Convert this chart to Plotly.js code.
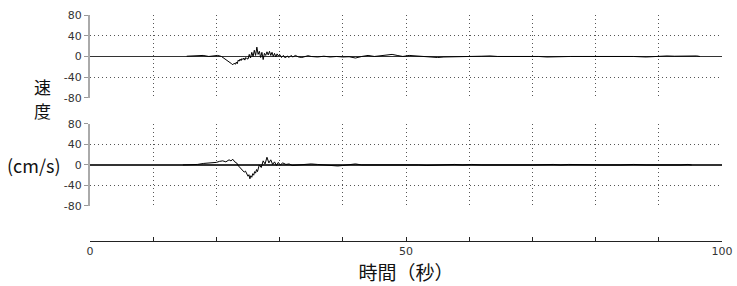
<!DOCTYPE html>
<html>
<head>
<meta charset="utf-8">
<script src="https://cdn.plot.ly/plotly-3.0.1.min.js"></script>
<style>html,body{margin:0;padding:0;background:#fff;}#chart{width:737px;height:286px;}</style>
</head>
<body>
<div id="chart"></div>
<script>
// Top record (time s, velocity cm/s)
const topTime = [15.3,16,17,17.9,18.8,19.5,20.2,20.8,21.3,21.6,21.8,22.0,22.2,22.4,22.6,22.8,23.0,23.15,23.3,23.45,23.6,23.75,23.9,24.05,24.2,24.35,24.5,24.65,24.8,25.0,25.2,25.4,25.6,25.8,26.0,26.2,26.4,26.6,26.8,27.0,27.2,27.4,27.6,27.8,28.0,28.2,28.4,28.6,28.8,29.0,29.2,29.4,29.6,29.8,30.0,30.3,30.6,30.9,31.2,31.5,31.8,32.1,32.5,33,33.5,34,34.5,35,36,37,38,39,40,41,42,43,44,45,46,47,47.8,48.6,49.5,50.5,51.5,52.5,53.5,55,56,57,58,59,60,62,63.3,64.5,66,68,69.6,71,72.3,74,76,78,80,82,84,86,88,89.5,91.3,92.5,93.8,95,96,96.5];
const topVel = [0.5,1,1,2,0,0.5,2,0,-4,-6,-8,-10,-12,-14,-16,-13,-15,-11,-14,-7,-9,-5,-8,-4,-6,-3,-7,-2,-4,-5,4,-3,8,0,12,2,18,4,10,-2,8,-6,6,2,9,3,10,2,8,0,6,-1,5,1,4,-2,2,-3,1,-2,2,-1,2,-1,-2,0,1.5,0,-1,0.5,-1,0,-1,-0.5,-3,0,2,0,1,3,4,2,0,2,1,0,-1,-2,-1,-1,0,0,0,0.5,1,0,0,0,1,0,-1,0,0,0,0,1,0,0,-1,0,1,0.5,1,0.5,1,0];
// Bottom record
const botTime = [14.7,16,17,18,19,20,20.5,21,21.5,22,22.3,22.6,22.9,23.2,23.5,23.8,24.1,24.4,24.6,24.8,25.0,25.15,25.3,25.45,25.6,25.75,25.9,26.05,26.2,26.35,26.5,26.65,26.8,27.1,27.4,27.7,28.0,28.3,28.6,28.9,29.2,29.5,29.8,30.1,30.5,31,31.5,32,33,34,35,36,37,38,38.5,39.2,40,41,42,43,44,46,48,50.6,52,53.3,55,57.7,59,60.4,62,64,65.4,67,70,73.3,74.5,75.7,78,81,84,86,88,90,92.2,93.5,94.6,95.2];
const botVel = [0,0.5,1,3,4,5,7,8,6,10,8,11,6,4,-2,-6,-10,-14,-12,-18,-22,-19,-27,-21,-24,-17,-20,-13,-16,-9,-13,-6,0,-5,8,2,15,4,10,1,6,-1,5,0,4,1,2,-1,0,2,2,1,0,-1,-2,-2,-1,1,2,0,0,0,0,1,0,-1,0,1,0,1,0,0,-1,0,0,1,0,1,0,0,0,1,0,0,-1,0,1,0];

const xTickVals = [0,10,20,30,40,50,60,70,80,90,100];
const xTickText = ['0','','','','','50','','','','','100'];
const yTickVals = [-80,-40,0,40,80];
const yTickText = ['-80','-40','0','40','80'];

const tickFont = {family:'DejaVu Sans', size:11, color:'#333'};
const gridStyle = {showgrid:true, gridcolor:'#555', griddash:'1px,3px', gridwidth:1};

const yCommon = Object.assign({
  range:[-80,80], tickvals:yTickVals, ticktext:yTickText,
  zeroline:true, zerolinecolor:'#333', zerolinewidth:1.5,
  showline:true, linecolor:'#aaa', linewidth:2,
  ticks:'outside', ticklen:4, tickcolor:'#999', tickwidth:1,
  tickfont:tickFont, fixedrange:true
}, gridStyle);

const cjk = 'Noto Sans CJK JP';
const layout = {
  width:737, height:286,
  margin:{l:90, r:15, t:15, b:45},
  paper_bgcolor:'#fff', plot_bgcolor:'#fff',
  showlegend:false,
  xaxis:Object.assign({anchor:'y', range:[0,100], tickvals:xTickVals, showticklabels:false, ticks:'',
    zeroline:false, showline:false}, gridStyle),
  yaxis:Object.assign({domain:[0.633,1], anchor:'x'}, yCommon),
  xaxis2:Object.assign({anchor:'free', position:0, range:[0,100], tickvals:xTickVals, ticktext:xTickText,
    zeroline:false,
    showline:true, linecolor:'#222', linewidth:1.2, ticks:'inside', ticklen:4, tickcolor:'#222',
    tickfont:tickFont,
    title:{text:'時間（秒）', font:{family:cjk, size:19, color:'#111'}, standoff:6}}, gridStyle),
  yaxis2:Object.assign({domain:[0.155,0.518], anchor:'x2'}, yCommon),
  annotations:[
    {text:'速', xref:'paper', yref:'paper', x:(42-90)/632, y:(241-86)/226, showarrow:false, xanchor:'center', yanchor:'middle',
      font:{family:cjk, size:17, color:'#111'}},
    {text:'度', xref:'paper', yref:'paper', x:(42-90)/632, y:(241-110)/226, showarrow:false, xanchor:'center', yanchor:'middle',
      font:{family:cjk, size:17, color:'#111'}},
    {text:'(cm/s)', xref:'paper', yref:'paper', x:(34-90)/632, y:(241-165)/226, showarrow:false, xanchor:'center', yanchor:'middle',
      font:{family:cjk, size:18, color:'#111'}}
  ]
};

const data = [
  {x:topTime, y:topVel, xaxis:'x', yaxis:'y', type:'scatter', mode:'lines', line:{color:'#000', width:1}},
  {x:botTime, y:botVel, xaxis:'x2', yaxis:'y2', type:'scatter', mode:'lines', line:{color:'#000', width:1}}
];

Plotly.newPlot('chart', data, layout, {staticPlot:true, displayModeBar:false});
</script>
</body>
</html>
